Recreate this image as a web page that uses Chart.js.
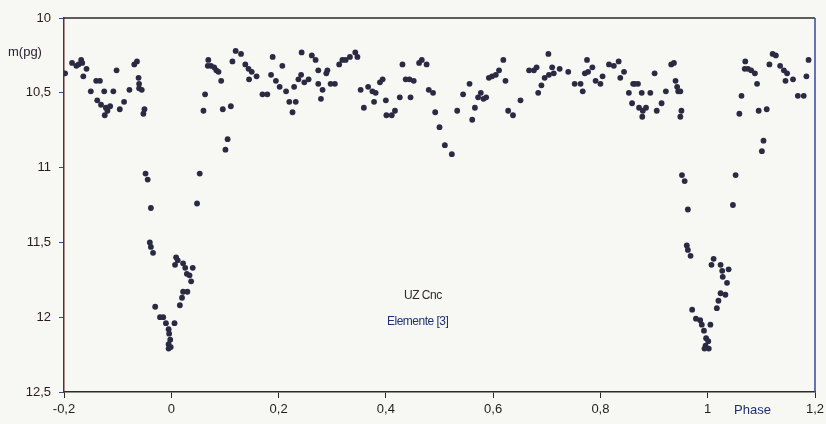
<!DOCTYPE html>
<html>
<head>
<meta charset="utf-8">
<script src="https://cdn.jsdelivr.net/npm/chart.js@4.4.1/dist/chart.umd.min.js"></script>
<style>
    html, body { margin: 0; padding: 0; background: #f7f7f4; }
    #wrap { position: relative; width: 826px; height: 424px; }
    .lbl { position: absolute; font-family: 'Liberation Sans', Arial, sans-serif; white-space: nowrap; }
</style>
</head>
<body>
<div id="wrap">
    <canvas id="lightCurve" width="826" height="424"></canvas>
    <div class="lbl" style="left:8px; top:44px; font-size:13px; color:#2a2030;">m(pg)</div>
    <div class="lbl" style="left:734px; top:402px; font-size:13px; color:#203070;">Phase</div>
    <div class="lbl" style="left:404px; top:288px; font-size:12px; color:#302a2a; letter-spacing:-0.5px;">UZ Cnc</div>
    <div class="lbl" style="left:387px; top:314px; font-size:12px; color:#203070; letter-spacing:-0.5px;">Elemente [3]</div>
</div>
<script>
/* UZ Cnc light curve, photographic magnitudes vs phase */

// phase values of the observations
const phase = [
    -0.198, -0.185, -0.177, -0.173, -0.168, -0.166, -0.158, -0.164, -0.140, -0.133,
    -0.150, -0.125, -0.108, -0.102, -0.138, -0.131, -0.122, -0.114, -0.124, -0.119,
    -0.096, -0.088, -0.078, -0.069, -0.064, -0.061, -0.060, -0.060, -0.055, -0.050,
    -0.052,
    -0.048, -0.044, -0.038, -0.040, -0.038, -0.034, -0.030, -0.021, -0.015, -0.010,
    -0.005, -0.004, -0.002, -0.005, -0.001, -0.005, 0.006, 0.016, 0.020, 0.022,
    0.030, 0.009, 0.012, 0.007, 0.022, 0.026, 0.040, 0.029, 0.034, 0.037,
    0.048, 0.053,
    0.063, 0.060, 0.069, 0.068, 0.074, 0.080, 0.084, 0.088, 0.093, 0.096,
    0.111, 0.114, 0.120, 0.130, 0.138, 0.144, 0.150, 0.145, 0.105, 0.101,
    0.159, 0.189, 0.207, 0.186, 0.170, 0.179, 0.195, 0.202, 0.214, 0.220,
    0.232, 0.226, 0.229, 0.237, 0.242, 0.248, 0.256, 0.243, 0.262, 0.269,
    0.274, 0.274, 0.282, 0.279, 0.289, 0.291, 0.297, 0.305, 0.313, 0.319,
    0.325, 0.333, 0.343, 0.347, 0.353, 0.359, 0.367, 0.375, 0.381, 0.378,
    0.389, 0.394, 0.400, 0.401, 0.411, 0.417, 0.426, 0.431, 0.437, 0.444,
    0.452, 0.446, 0.462, 0.467, 0.476, 0.480, 0.488, 0.492, 0.500, 0.510,
    0.523, 0.533, 0.544, 0.556, 0.561, 0.566, 0.572, 0.577, 0.582, 0.587,
    0.592, 0.598, 0.605, 0.611, 0.619, 0.623, 0.628, 0.637, 0.651, 0.667,
    0.676, 0.681, 0.684, 0.690, 0.696, 0.704, 0.703, 0.710, 0.713, 0.724,
    0.740, 0.752, 0.763, 0.767, 0.771, 0.777, 0.775, 0.785, 0.791, 0.800,
    0.804, 0.816, 0.825, 0.834, 0.837, 0.844, 0.853, 0.859, 0.861,
    0.864, 0.870, 0.877, 0.893, 0.872, 0.879, 0.878, 0.885, 0.901, 0.905,
    0.914, 0.922, 0.932, 0.937, 0.940, 0.943, 0.945, 0.949, 0.951, 0.949,
    0.952, 0.957, 0.963, 0.961, 0.963, 0.968, 0.971, 0.978, 0.986, 0.989,
    0.993, 0.997, 1.001, 0.996, 1.002, 0.994, 1.005, 1.017, 1.020, 1.024,
    1.033, 1.011, 1.007, 1.024, 1.027, 1.028, 1.036, 1.039, 1.047, 1.052,
    1.063, 1.059, 1.070, 1.069, 1.075, 1.081, 1.088, 1.092, 1.095, 1.110,
    1.115, 1.121, 1.127, 1.135, 1.142, 1.148, 1.145, 1.159, 1.168, 1.179,
    1.184, 1.188, 1.104, 1.101
];

// photographic magnitudes, same order as phase
const magnitude = [
    10.37, 10.30, 10.32, 10.31, 10.28, 10.30, 10.34, 10.39, 10.42, 10.42,
    10.49, 10.49, 10.49, 10.35, 10.55, 10.58, 10.60, 10.59, 10.65, 10.62,
    10.61, 10.56, 10.48, 10.31, 10.29, 10.40, 10.44, 10.47, 10.48, 10.61,
    10.64,
    11.04, 11.08, 11.27, 11.50, 11.53, 11.57, 11.93, 12.00, 12.00, 12.04,
    12.08, 12.11, 12.15, 12.18, 12.20, 12.21, 12.04, 11.92, 11.87, 11.83,
    11.83, 11.60, 11.62, 11.65, 11.64, 11.67, 11.67, 11.71, 11.72, 11.76,
    11.24, 11.04,
    10.51, 10.62, 10.28, 10.32, 10.32, 10.33, 10.35, 10.36, 10.42, 10.61,
    10.59, 10.29, 10.22, 10.24, 10.31, 10.34, 10.36, 10.41, 10.81, 10.88,
    10.39, 10.26, 10.32, 10.38, 10.51, 10.51, 10.42, 10.46, 10.49, 10.56,
    10.56, 10.63, 10.46, 10.41, 10.38, 10.43, 10.41, 10.23, 10.25, 10.28,
    10.35, 10.44, 10.48, 10.54, 10.37, 10.35, 10.44, 10.44, 10.31, 10.28,
    10.28, 10.26, 10.23, 10.26, 10.48, 10.60, 10.46, 10.49, 10.50, 10.56,
    10.43, 10.41, 10.55, 10.65, 10.65, 10.62, 10.53, 10.31, 10.41, 10.41,
    10.42, 10.53, 10.30, 10.28, 10.31, 10.48, 10.50, 10.63, 10.73, 10.85,
    10.91, 10.62, 10.51, 10.44, 10.68, 10.60, 10.53, 10.50, 10.54, 10.53,
    10.40, 10.39, 10.38, 10.35, 10.28, 10.42, 10.62, 10.65, 10.55, 10.35,
    10.35, 10.33, 10.50, 10.45, 10.40, 10.38, 10.24, 10.33, 10.37, 10.34,
    10.36, 10.44, 10.44, 10.49, 10.37, 10.36, 10.28, 10.33, 10.42, 10.44,
    10.39, 10.31, 10.32, 10.29, 10.40, 10.36, 10.50, 10.57, 10.44,
    10.44, 10.44, 10.50, 10.50, 10.60, 10.62, 10.66, 10.60, 10.37, 10.62,
    10.57, 10.49, 10.31, 10.30, 10.42, 10.46, 10.49, 10.49, 10.62, 10.66,
    11.05, 11.09, 11.28, 11.52, 11.55, 11.59, 11.95, 12.01, 12.02, 12.05,
    12.09, 12.14, 12.16, 12.19, 12.21, 12.21, 12.05, 11.94, 11.89, 11.84,
    11.85, 11.61, 11.65, 11.65, 11.69, 11.73, 11.77, 11.68, 11.25, 11.05,
    10.52, 10.64, 10.29, 10.34, 10.34, 10.35, 10.37, 10.44, 10.62, 10.61,
    10.31, 10.24, 10.25, 10.32, 10.35, 10.37, 10.42, 10.41, 10.52, 10.52,
    10.39, 10.28, 10.82, 10.89
];

// axis ticks
const phaseTicks = [-0.2, 0, 0.2, 0.4, 0.6, 0.8, 1.0, 1.2];
const magTicks = [10, 10.5, 11, 11.5, 12, 12.5];

function commaLabel(v) {
    const r = Math.round(v * 10) / 10;
    return String(r).replace('.', ',');
}

// draws the top and right edges of the frame
const framePlugin = {
    id: 'frame',
    afterDatasetsDraw(chart) {
        const a = chart.chartArea;
        const c = chart.ctx;
        c.save();
        c.lineWidth = 1.5;
        c.strokeStyle = '#2a2a2a';
        c.beginPath();
        c.moveTo(a.left, a.top);
        c.lineTo(a.right, a.top);
        c.stroke();
        c.strokeStyle = '#34489a';
        c.beginPath();
        c.moveTo(a.right, a.top);
        c.lineTo(a.right, a.bottom);
        c.stroke();
        c.restore();
    }
};

const points = phase.map((p, i) => ({ x: p, y: magnitude[i] }));
const tickFont = { family: "'Liberation Sans', Arial, sans-serif", size: 13 };

new Chart(document.getElementById('lightCurve'), {
    type: 'scatter',
    data: {
        datasets: [{
            data: points,
            backgroundColor: '#2a2a42',
            borderColor: '#2a2a42',
            borderWidth: 0,
            pointRadius: 2.9
        }]
    },
    options: {
        responsive: false,
        animation: false,
        layout: { padding: { top: 18, right: 11, left: 0, bottom: 0 } },
        plugins: {
            legend: { display: false },
            tooltip: { enabled: false }
        },
        scales: {
            x: {
                type: 'linear',
                min: -0.2,
                max: 1.2,
                afterBuildTicks: scale => { scale.ticks = phaseTicks.map(v => ({ value: v })); },
                afterFit: scale => {
                    scale.height = 32;
                    scale.paddingLeft = 0;
                    scale.paddingRight = 0;
                },
                border: { display: true, color: '#2a2a2a', width: 1.5 },
                grid: { drawOnChartArea: false, tickLength: 6, color: '#2a2a2a' },
                ticks: {
                    color: '#1e1e1e',
                    font: tickFont,
                    padding: 4,
                    maxRotation: 0,
                    callback: v => commaLabel(v)
                }
            },
            y: {
                type: 'linear',
                reverse: true,
                min: 10,
                max: 12.5,
                afterBuildTicks: scale => { scale.ticks = magTicks.map(v => ({ value: v })); },
                afterFit: scale => {
                    scale.width = 64;
                    scale.paddingTop = 0;
                    scale.paddingBottom = 0;
                },
                border: { display: true, color: '#6a2a25', width: 1.5 },
                grid: { drawOnChartArea: false, tickLength: 5, color: '#3a4a90' },
                ticks: {
                    color: '#2a1a1a',
                    font: tickFont,
                    padding: 8,
                    callback: v => commaLabel(v)
                }
            }
        }
    },
    plugins: [framePlugin]
});
</script>
</body>
</html>
